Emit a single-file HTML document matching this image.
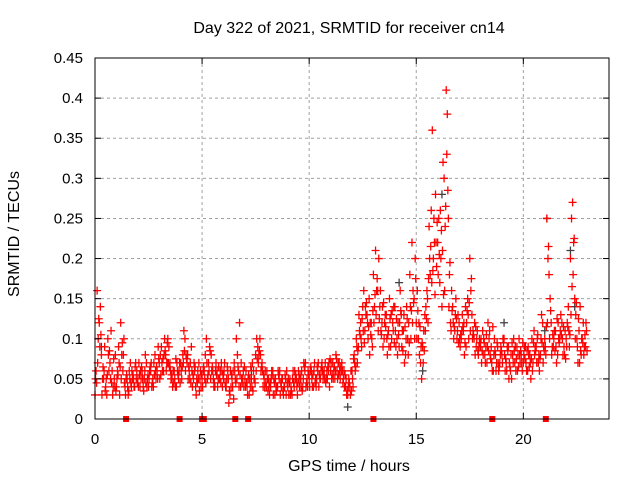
<!DOCTYPE html>
<html><head><meta charset="utf-8"><style>
body{margin:0;background:#fff}
svg text{font-family:"Liberation Sans",sans-serif;font-size:15px;fill:#000}
svg text.big{font-size:16px}
</style></head><body>
<svg id="chart" width="640" height="480" viewBox="0 0 640 480" xmlns="http://www.w3.org/2000/svg">
<rect width="640" height="480" fill="#fff"/>
<text class="big" x="349" y="33" text-anchor="middle">Day 322 of 2021, SRMTID for receiver cn14</text>
<text class="big" x="349" y="471" text-anchor="middle">GPS time / hours</text>
<text class="big" transform="translate(19,234) rotate(-90)" text-anchor="middle">SRMTID / TECUs</text>
<g id="grid"></g><g id="marks"></g><g id="axes"></g>
</svg>
<script>
const xTicks=[0,5,10,15,20];
const yTicks=[0,0.05,0.1,0.15,0.2,0.25,0.3,0.35,0.4,0.45];
const yTickLabels=["0","0.05","0.1","0.15","0.2","0.25","0.3","0.35","0.4","0.45"];
const seriesA=[.03,.16,.12,.08,.05,.04,.10,.07,.06,.05,.04,.09,.12,.06,.04,.05,.06,.04,.05,.07,.05,.04,.06,.05,.07,.04,.06,.05,.08,.06,.07,.09,.06,.08,.10,.07,.05,.06,.04,.05,.07,.08,.10,.07,.06,.09,.05,.04,.06,.05,.05,.06,.10,.07,.05,.06,.04,.06,.05,.07,.05,.04,.06,.03,.05,.07,.10,.06,.04,.05,.05,.04,.03,.05,.06,.08,.09,.10,.07,.05,.04,.05,.04,.06,.03,.04,.05,.04,.03,.05,.04,.05,.03,.04,.05,.06,.05,.04,.06,.05,.05,.06,.04,.05,.06,.05,.07,.06,.05,.06,.06,.07,.05,.06,.07,.06,.05,.04,.03,.04,.06,.08,.10,.09,.12,.14,.11,.13,.15,.12,.18,.21,.16,.14,.12,.10,.13,.11,.09,.12,.14,.10,.09,.13,.11,.08,.10,.18,.22,.15,.12,.10,.07,.09,.13,.16,.24,.26,.20,.28,.22,.17,.14,.30,.41,.25,.12,.14,.11,.10,.12,.10,.11,.14,.15,.20,.13,.10,.09,.08,.09,.11,.08,.07,.10,.09,.06,.08,.09,.07,.08,.10,.07,.09,.06,.08,.07,.09,.10,.08,.07,.09,.06,.08,.10,.11,.09,.07,.08,.12,.10,.25,.18,.12,.09,.11,.08,.10,.12,.09,.10,.14,.20,.27,.15,.10,.11,.08,.12,.09];
const seriesB=[.06,.10,.14,.05,.09,.03,.06,.11,.04,.08,.06,.03,.08,.10,.05,.03,.07,.05,.04,.06,.07,.05,.04,.08,.05,.06,.04,.07,.05,.09,.08,.06,.10,.07,.09,.05,.06,.04,.06,.07,.05,.11,.08,.05,.07,.04,.06,.05,.07,.04,.06,.08,.05,.09,.06,.04,.07,.05,.06,.04,.07,.05,.02,.04,.06,.05,.08,.12,.05,.04,.06,.05,.04,.07,.05,.10,.08,.06,.04,.06,.05,.03,.06,.05,.04,.06,.03,.05,.04,.06,.03,.04,.06,.05,.03,.04,.06,.07,.04,.06,.06,.04,.07,.05,.04,.06,.05,.07,.05,.04,.05,.06,.08,.07,.05,.06,.04,.03,.05,.06,.04,.06,.07,.11,.09,.16,.13,.10,.12,.09,.14,.16,.20,.11,.09,.13,.08,.15,.10,.14,.09,.12,.16,.11,.07,.14,.12,.10,.16,.20,.16,.08,.05,.11,.14,.12,.18,.36,.22,.19,.25,.20,.32,.24,.38,.18,.16,.10,.15,.13,.09,.13,.08,.12,.10,.16,.11,.08,.11,.10,.07,.10,.09,.12,.08,.06,.10,.07,.06,.09,.10,.06,.09,.07,.05,.10,.06,.08,.07,.06,.09,.06,.08,.05,.07,.09,.10,.06,.13,.09,.08,.20,.15,.09,.11,.07,.10,.13,.08,.11,.12,.09,.25,.22,.13,.07,.14,.10,.09,.11];
const seriesC=[.05,.07,.09,.03,.06,.05,.08,.05,.03,.04,.05,.07,.05,.08,.03,.04,.05,.06,.04,.05,.04,.06,.05,.06,.04,.05,.07,.04,.06,.05,.05,.07,.08,.06,.07,.06,.04,.05,.07,.06,.06,.07,.06,.08,.05,.06,.07,.03,.05,.06,.04,.05,.07,.06,.08,.05,.06,.04,.05,.06,.06,.04,.05,.06,.04,.06,.05,.04,.07,.06,.04,.03,.05,.04,.05,.06,.07,.08,.06,.04,.06,.04,.05,.03,.05,.04,.06,.05,.04,.03,.05,.03,.05,.06,.04,.05,.04,.05,.07,.04,.04,.05,.06,.04,.07,.05,.06,.05,.06,.07,.07,.05,.06,.05,.06,.07,.06,.05,.04,.03,.05,.07,.09,.13,.10,.11,.14,.12,.08,.10,.12,.13,.11,.16,.14,.12,.10,.09,.13,.11,.11,.08,.12,.09,.13,.10,.08,.14,.12,.10,.10,.12,.09,.07,.11,.15,.20,.17,.25,.22,.18,.26,.21,.16,.33,.14,.11,.12,.13,.11,.10,.11,.12,.09,.13,.11,.10,.12,.10,.09,.10,.08,.07,.09,.11,.07,.08,.06,.07,.08,.07,.08,.06,.05,.08,.07,.09,.06,.08,.07,.08,.07,.09,.07,.06,.08,.07,.08,.10,.07,.09,.12,.10,.08,.10,.09,.12,.11,.10,.08,.09,.11,.13,.18,.10,.09,.07,.10,.08,.12];
const seriesD=[.045,.125,.105,.065,.035,.055,.085,.045,.075,.035,.055,.065,.095,.045,.055,.035,.045,.055,.065,.045,.055,.065,.035,.045,.055,.065,.045,.055,.065,.075,.055,.075,.085,.095,.065,.055,.045,.075,.055,.045,.065,.085,.075,.065,.045,.055,.065,.045,.035,.055,.065,.045,.055,.085,.065,.045,.055,.065,.045,.055,.045,.065,.035,.055,.025,.045,.065,.055,.045,.065,.045,.055,.065,.035,.045,.075,.085,.065,.055,.045,.035,.045,.055,.045,.035,.055,.045,.035,.055,.045,.045,.035,.045,.055,.045,.055,.035,.065,.045,.055,.065,.055,.045,.065,.055,.065,.055,.045,.065,.075,.055,.065,.075,.055,.065,.045,.055,.035,.045,.035,.075,.065,.085,.105,.125,.095,.145,.115,.105,.135,.155,.175,.125,.105,.145,.115,.105,.125,.135,.095,.125,.105,.135,.085,.115,.125,.095,.135,.145,.175,.135,.115,.095,.085,.125,.175,.215,.185,.155,.245,.205,.235,.155,.265,.285,.195,.135,.115,.125,.095,.105,.115,.095,.135,.145,.175,.105,.115,.085,.095,.085,.095,.105,.085,.075,.115,.085,.095,.065,.085,.095,.075,.085,.065,.095,.085,.075,.065,.085,.095,.075,.085,.065,.075,.095,.085,.105,.075,.095,.085,.115,.215,.135,.105,.085,.125,.095,.105,.115,.075,.115,.105,.165,.225,.145,.125,.085,.095,.105,.085];
const grayTimes=[0.3,3.4,7.3,9.6,11.8,14.2,15.3,16.2,19.1,21.0,21.1,22.2,22.4];
const grayVals=[0.09,0.07,0.06,0.05,0.015,0.17,0.06,0.28,0.12,0.11,0.25,0.21,0.14];
const gapTimes=[1.45,3.95,5.0,5.08,6.55,7.15,13.0,18.55,21.05];
const L=95,R=609,T=58,B=419,XMAX=24,YMAX=0.45;
const xs=v=>L+(R-L)*v/XMAX, ys=v=>B-(B-T)*v/YMAX;
const NS="http://www.w3.org/2000/svg";
const mk=(t,a,p)=>{const e=document.createElementNS(NS,t);for(const k in a)e.setAttribute(k,a[k]);p.appendChild(e);return e;};
const grid=document.getElementById('grid'),marks=document.getElementById('marks'),axes=document.getElementById('axes');
xTicks.forEach(v=>{const x=xs(v);
 if(v>0){const g=mk('line',{x1:x,x2:x,y1:T,y2:B,stroke:'#a0a0a0','stroke-dasharray':'3,3'},grid);
 
 }
 const t=mk('text',{x:x,y:444,'text-anchor':'middle'},axes);t.textContent=v;
 
 
 mk('line',{x1:x,x2:x,y1:B,y2:B-6,stroke:'#000'},axes);mk('line',{x1:x,x2:x,y1:T,y2:T+6,stroke:'#000'},axes);});
yTicks.forEach((v,i)=>{const y=ys(v);
 if(v>0){const g=mk('line',{x1:L,x2:R,y1:y,y2:y,stroke:'#a0a0a0','stroke-dasharray':'3,3'},grid);
 
 }
 const t=mk('text',{x:83,y:y+5,'text-anchor':'end'},axes);t.textContent=yTickLabels[i];
 
 
 mk('line',{x1:L,x2:L+6,y1:y,y2:y,stroke:'#000'},axes);mk('line',{x1:R,x2:R-6,y1:y,y2:y,stroke:'#000'},axes);});
const frame=mk('rect',{x:L,y:T,width:R-L,height:B-T,fill:'none',stroke:'#000'},axes);


function cross(t,v,col,name){const x=xs(t),y=ys(v);
 const p=mk('path',{d:`M${x-4},${y}h8M${x},${y-4}v8`,stroke:col,'stroke-width':1.3,fill:'none'},marks);
 
 }
grayTimes.forEach((t,i)=>cross(t,grayVals[i],'#404040','gray-point'));
seriesA.forEach((v,i)=>cross(i*0.1,v,'#ff0000','srmtid-point-a'));
seriesB.forEach((v,i)=>cross(i*0.1+0.05,v,'#ff0000','srmtid-point-b'));
seriesC.forEach((v,i)=>cross(i*0.1+0.025,v,'#ff0000','srmtid-point-c'));
seriesD.forEach((v,i)=>cross(i*0.1+0.075,v,'#ff0000','srmtid-point-d'));
gapTimes.forEach(t=>{const r=mk('rect',{x:xs(t)-3,y:B-3,width:6,height:6,fill:'#ff0000'},marks);
 
 });
</script>
</body></html>
